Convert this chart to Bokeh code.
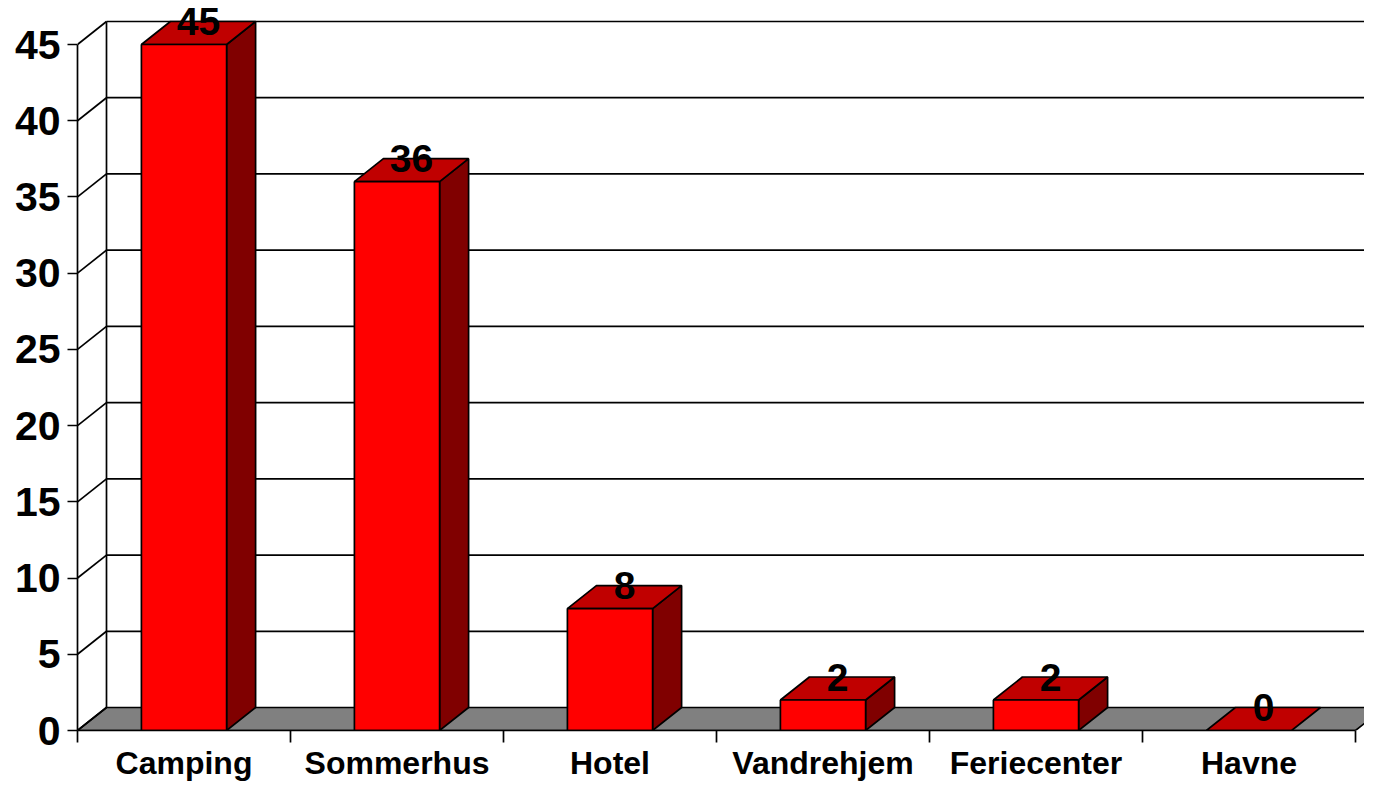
from bokeh.plotting import figure
from bokeh.models import Range1d, FixedTicker
from bokeh.embed import file_html
from bokeh.resources import INLINE
from bokeh.core.properties import value

# ---- data ----
categories = ["Camping", "Sommerhus", "Hotel", "Vandrehjem", "Feriecenter", "Havne"]
values = [45, 36, 8, 2, 2, 0]
y_ticks = [0, 5, 10, 15, 20, 25, 30, 35, 40, 45]

# ---- layout / 3D geometry ----
FIG_W, FIG_H = 1364, 784
LEFT = 77            # frame left (front y axis)
ZERO_PX = 730        # pixel row of value 0
TOP_PX = 44          # pixel row of value 45
PX_PER_X = 213.0
PX_PER_Y = (ZERO_PX - TOP_PX) / 45.0
DX = 29.0 / PX_PER_X      # depth offset along x
DY = 23.0 / PX_PER_Y      # depth offset along y
W = 0.4                   # bar width (category units)
X_END = (FIG_W - LEFT) / PX_PER_X
Y_END = 45 + TOP_PX / PX_PER_Y
YMAX = max(y_ticks)
N = len(categories)

FONT = "Liberation Sans"
LW = 1.7

p = figure(width=FIG_W, height=FIG_H,
           x_range=Range1d(0, X_END), y_range=Range1d(0, Y_END),
           output_backend="svg", toolbar_location=None,
           min_border_left=LEFT, min_border_right=0,
           min_border_top=0, min_border_bottom=FIG_H - ZERO_PX)
p.outline_line_color = None
p.xgrid.visible = False
p.ygrid.visible = False
p.background_fill_color = "white"
p.border_fill_color = "white"

# floor
p.patch(x=[0, N, N + DX, DX], y=[0, 0, DY, DY],
        fill_color="#808080", line_color="black", line_width=LW)

# back wall grid lines
back_levels = [t + DY for t in y_ticks[1:]]
p.segment(x0=[DX] * len(back_levels), y0=back_levels,
          x1=[X_END + 1] * len(back_levels), y1=back_levels,
          line_color="black", line_width=LW)
# back wall left edge
p.segment(x0=[DX], y0=[DY], x1=[DX], y1=[YMAX + DY],
          line_color="black", line_width=LW)
# side wall diagonals
p.segment(x0=[0] * len(y_ticks), y0=y_ticks,
          x1=[DX] * len(y_ticks), y1=[t + DY for t in y_ticks],
          line_color="black", line_width=LW)

# bars
side_xs, side_ys, top_xs, top_ys = [], [], [], []
lefts, rights = [], []
for i, v in enumerate(values):
    l = i + 0.5 - W / 2
    r = l + W
    lefts.append(l)
    rights.append(r)
    side_xs.append([r, r + DX, r + DX, r])
    side_ys.append([0, DY, v + DY, v])
    top_xs.append([l, r, r + DX, l + DX])
    top_ys.append([v, v, v + DY, v + DY])

nz = [i for i, v in enumerate(values) if v > 0]
p.patches(xs=[side_xs[i] for i in nz], ys=[side_ys[i] for i in nz],
          fill_color="#800000", line_color="black", line_width=LW)
p.patches(xs=top_xs, ys=top_ys,
          fill_color="#C00000", line_color="black", line_width=LW)
p.quad(left=[lefts[i] for i in nz], right=[rights[i] for i in nz],
       bottom=[0] * len(nz), top=[values[i] for i in nz],
       fill_color="#FF0000", line_color="black", line_width=LW)

# data labels
p.text(x=[i + 0.5 + DX / 2 for i in range(N)],
       y=[v + DY for v in values],
       text=[str(v) for v in values],
       text_align="center", text_baseline="middle",
       text_font=value(FONT), text_font_style="bold",
       text_font_size="39px", text_color="black")

# y axis
p.yaxis.ticker = FixedTicker(ticks=y_ticks)
p.yaxis.bounds = (0, YMAX)
p.yaxis.axis_line_color = "black"
p.yaxis.axis_line_width = LW
p.yaxis.major_tick_out = 10
p.yaxis.major_tick_in = 0
p.yaxis.major_tick_line_width = LW
p.yaxis.minor_tick_out = 0
p.yaxis.minor_tick_in = 0
p.yaxis.major_label_standoff = 7
p.yaxis.major_label_text_font = FONT
p.yaxis.major_label_text_font_style = "bold"
p.yaxis.major_label_text_font_size = "41px"
p.yaxis.major_label_text_color = "black"

# x axis
centers = [i + 0.5 for i in range(N)]
p.xaxis.ticker = FixedTicker(ticks=centers, minor_ticks=list(range(N + 1)))
p.xaxis.major_label_overrides = {c: name for c, name in zip(centers, categories)}
p.xaxis.bounds = (0, N)
p.xaxis.axis_line_color = "black"
p.xaxis.axis_line_width = LW
p.xaxis.major_tick_out = 0
p.xaxis.major_tick_in = 0
p.xaxis.minor_tick_out = 12
p.xaxis.minor_tick_in = 0
p.xaxis.minor_tick_line_color = "black"
p.xaxis.minor_tick_line_width = LW
p.xaxis.major_label_standoff = 2
p.xaxis.major_label_text_font = FONT
p.xaxis.major_label_text_font_style = "bold"
p.xaxis.major_label_text_font_size = "32px"
p.xaxis.major_label_text_color = "black"

open("out.html", "w").write(file_html(p, INLINE))
